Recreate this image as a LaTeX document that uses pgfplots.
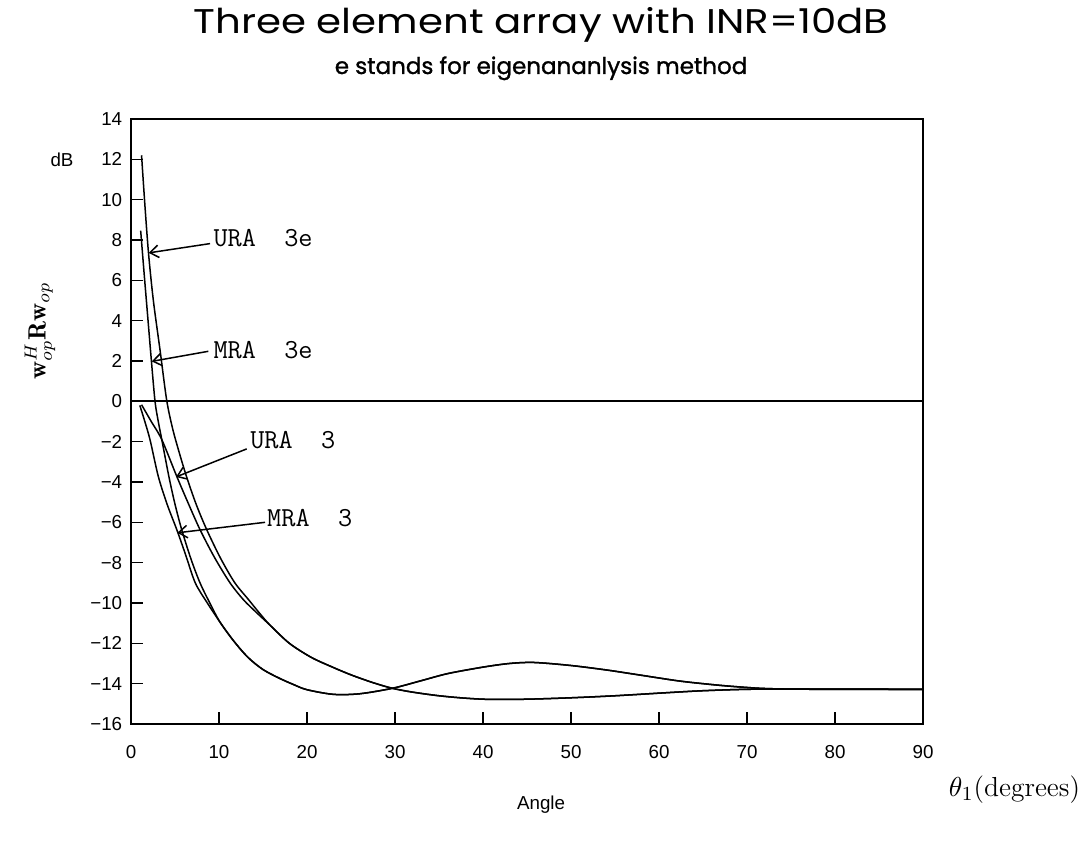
\documentclass[border=0pt]{standalone}
\usepackage{pgfplots}
\pgfplotsset{compat=1.18}
\usepackage{fontspec}
\usetikzlibrary{arrows.meta}
\newfontfamily\tickfont{Liberation Sans}
\newfontfamily\titlefont{Poppins}
\newfontfamily\subfont{Poppins}[FakeBold=1.2]

\pgfplotstableread{
x y
1.0 -0.2
1.5 -0.9
2.16 -1.9
3.1 -3.72
4.1 -5.1
5.2 -6.36
6.2 -7.6
7.3 -9.0
8.6 -9.95
10.1 -10.94
11.7 -11.9
13.3 -12.7
15.0 -13.3
16.9 -13.74
18.5 -14.05
20.0 -14.3
23.0 -14.53
26.0 -14.5
29.7 -14.23
33.0 -13.85
36.0 -13.5
40.0 -13.18
43.0 -13.0
45.8 -12.95
50.0 -13.1
54.0 -13.32
57.2 -13.53
62.0 -13.85
65.0 -14.0
67.9 -14.12
71.5 -14.23
75.0 -14.27
80.0 -14.28
90.0 -14.28
}\mrathree

\pgfplotstableread{
x y
1.1 8.46
1.5 6.3
1.9 4.2
2.3 2.1
2.73 0.0
3.1 -1.0
3.5 -1.9
4.3 -3.72
5.0 -5.1
5.76 -6.36
6.8 -7.8
7.84 -9.0
8.9 -9.95
10.1 -10.94
11.7 -11.9
13.3 -12.7
15.0 -13.3
16.9 -13.74
18.5 -14.05
20.0 -14.3
23.0 -14.53
26.0 -14.5
29.7 -14.23
33.0 -13.85
36.0 -13.5
40.0 -13.18
43.0 -13.0
45.8 -12.95
50.0 -13.1
54.0 -13.32
57.2 -13.53
62.0 -13.85
65.0 -14.0
67.9 -14.12
71.5 -14.23
75.0 -14.27
80.0 -14.28
90.0 -14.28
}\mrathreee

\pgfplotstableread{
x y
1.2 -0.17
2.3 -1.0
3.5 -1.9
5.2 -3.72
6.5 -5.05
7.84 -6.36
9.5 -7.75
11.25 -9.0
12.76 -9.83
14.2 -10.45
15.8 -11.1
18.0 -12.0
20.5 -12.7
23.0 -13.2
25.1 -13.58
27.5 -13.95
29.7 -14.23
32.0 -14.42
35.0 -14.6
38.0 -14.72
40.8 -14.78
45.0 -14.77
50.0 -14.7
55.0 -14.6
60.8 -14.45
65.0 -14.35
70.0 -14.28
75.0 -14.27
90.0 -14.28
}\urathree

\pgfplotstableread{
x y
1.2 12.2
1.6 9.6
2.0 7.3
2.54 5.0
3.3 2.54
4.05 0.07
4.7 -1.3
5.38 -2.39
6.3 -3.72
7.4 -5.1
8.6 -6.36
10.2 -7.8
11.8 -9.0
13.35 -9.83
14.6 -10.5
15.8 -11.1
18.0 -12.0
20.5 -12.7
23.0 -13.2
25.1 -13.58
27.5 -13.95
29.7 -14.23
32.0 -14.42
35.0 -14.6
38.0 -14.72
40.8 -14.78
45.0 -14.77
50.0 -14.7
55.0 -14.6
60.8 -14.45
65.0 -14.35
70.0 -14.28
75.0 -14.27
90.0 -14.28
}\urathreee

\pgfplotstableread{
x y
0 0
90 0
}\zeroline

\begin{document}
\begin{tikzpicture}
\begin{axis}[
  scale only axis, width=316.8pt, height=242pt,
  xmin=0, xmax=90, ymin=-16, ymax=14,
  xtick={0,10,...,90}, ytick={-16,-14,...,14},
  xticklabels={0,10,20,30,40,50,60,70,80,90},
  yticklabels={−16,−14,−12,−10,−8,−6,−4,−2,0,2,4,6,8,10,12,14},
  tick label style={font=\tickfont\fontsize{7.5}{9}\selectfont},
  xticklabel style={yshift=-5pt},
  tick pos=left, tick align=inside, major tick length=4.8pt,
  axis line style={line width=0.5pt},
  tick style={line width=0.6pt, black},
  clip=false,
]
\addplot[black, line width=0.6pt, smooth] table {\mrathree};
\addplot[black, line width=0.6pt, smooth] table {\mrathreee};
\addplot[black, line width=0.6pt, smooth] table {\urathree};
\addplot[black, line width=0.6pt, smooth] table {\urathreee};
\addplot[black, line width=0.9pt] table {\zeroline};

\draw[line width=1pt] (rel axis cs:0,0) -- (rel axis cs:1,0);

% curve labels with arrows
\node[anchor=west, inner sep=0pt, font=\ttfamily\fontsize{11}{13}\selectfont] at (axis cs:9.32,8.08) {URA\ \ 3e};
\draw[line width=0.6pt, -{Straight Barb[length=3.5pt,width=5pt]}] (axis cs:8.98,7.82) -- (axis cs:2.0,7.36);
\node[anchor=west, inner sep=0pt, font=\ttfamily\fontsize{11}{13}\selectfont] at (axis cs:9.32,2.56) {MRA\ \ 3e};
\draw[line width=0.6pt, -{Straight Barb[length=3.5pt,width=5pt]}] (axis cs:8.79,2.48) -- (axis cs:2.35,1.98);
\node[anchor=west, inner sep=0pt, font=\ttfamily\fontsize{11}{13}\selectfont] at (axis cs:13.5,-1.93) {URA\ \ 3};
\draw[line width=0.6pt, -{Straight Barb[length=3.5pt,width=5pt]}] (axis cs:13.15,-2.36) -- (axis cs:5.11,-3.75);
\node[anchor=west, inner sep=0pt, font=\ttfamily\fontsize{11}{13}\selectfont] at (axis cs:15.42,-5.78) {MRA\ \ 3};
\draw[line width=0.6pt, -{Straight Barb[length=3.5pt,width=5pt]}] (axis cs:15.23,-6.0) -- (axis cs:5.26,-6.52);

% titles and labels
\node[inner sep=0pt, anchor=base] at (axis cs:46.6,18.22) {\scalebox{1}[0.85]{\resizebox{278pt}{!}{\titlefont Three element array with INR=10dB}}};
\node[inner sep=0pt, anchor=base] at (axis cs:46.6,16.23) {\resizebox{165pt}{!}{\subfont e stands for eigenananlysis method}};
\node[inner sep=0pt, font=\tickfont\fontsize{7.5}{9}\selectfont] at (axis cs:-7.84,12) {dB};
\node[inner sep=0pt, rotate=90] at (axis cs:-10.34,3.5) {$\mathbf{w}_{op}^{H}\mathbf{R}\mathbf{w}_{op}$};
\node[inner sep=0pt, anchor=east, font=\fontsize{11}{13}\selectfont] at (axis cs:107.9,-19.27) {$\theta_1$(degrees)};
\node[inner sep=0pt, font=\tickfont\fontsize{7.5}{9}\selectfont] at (axis cs:46.6,-20.0) {Angle};

\coordinate (bbl) at (axis cs:-14.886,-21.95);
\coordinate (btr) at (axis cs:108.18,19.90);
\end{axis}
\path[use as bounding box] (bbl) rectangle (btr);
\end{tikzpicture}
\end{document}
